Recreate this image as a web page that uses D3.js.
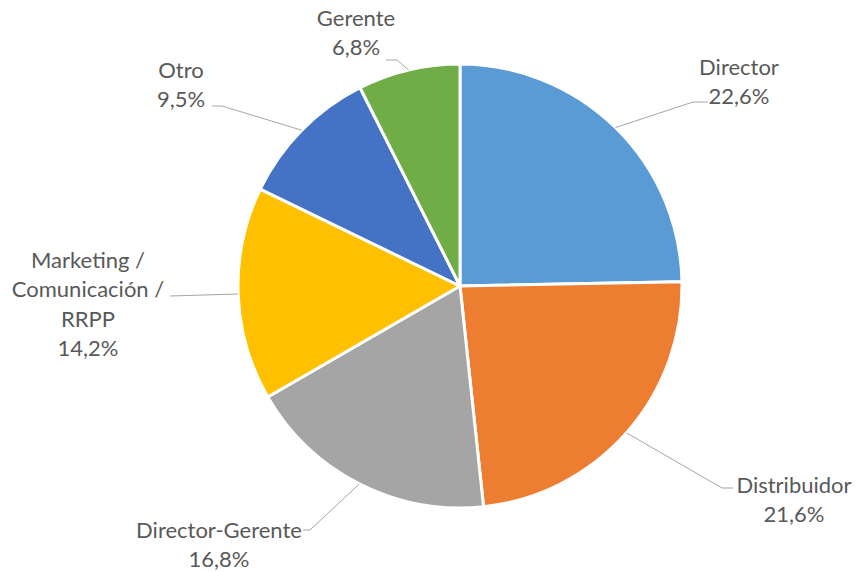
<!DOCTYPE html>
<html>
<head>
<meta charset="utf-8">
<script src="https://cdn.jsdelivr.net/npm/d3@7"></script>
<style>
    body { margin: 0; background: #fff; }
    .lbl { font-family: Lato, "Open Sans", sans-serif; font-size: 22px; fill: #595959; }
    .leader { fill: none; stroke: #a6a6a6; stroke-width: 1; }
</style>
</head>
<body>
<div id="chart"></div>
<script>
// data
var categories = ["Director", "Distribuidor", "Director-Gerente", "Marketing / Comunicación / RRPP", "Otro", "Gerente"];
var values = [22.6, 21.6, 16.8, 14.2, 9.5, 6.8];
var colors = ["#5b9bd5", "#ed7d31", "#a5a5a5", "#ffc000", "#4472c4", "#70ad47"];

// label layout, relative to the pie centre: text = first line centre, elbow/end = leader line
var labelLayout = [
    {text: [279, -219], elbow: [233, -184], end: [248, -184]},
    {text: [334, 199],  elbow: [262, 202],  end: [273, 202]},
    {text: [-241, 244], elbow: [-150, 244], end: [-157, 244]},
    {text: [-372, -26], elbow: [-290, 10],  end: [-290, 10]},
    {text: [-279, -216], elbow: [-238, -180], end: [-248, -180]},
    {text: [-104, -268], elbow: [-63, -226], end: [-74, -226]}
];

var width = 857, height = 572;
var cx = 460, cy = 286, radius = 222;
var lineH = 29.5;

var svg = d3.select("#chart").append("svg")
    .attr("width", width)
    .attr("height", height);

var g = svg.append("g")
    .attr("transform", "translate(" + cx + "," + cy + ")");

var data = categories.map(function(c, i) { return {name: c, value: values[i], color: colors[i], layout: labelLayout[i]}; });

var pie = d3.pie().sort(null).value(function(d) { return d.value; });
var arc = d3.arc().innerRadius(0).outerRadius(radius);
var arcs = pie(data);

g.selectAll("path.slice")
    .data(arcs)
    .enter().append("path")
    .attr("class", "slice")
    .attr("d", arc)
    .attr("fill", function(d) { return d.data.color; })
    .attr("stroke", "#fff")
    .attr("stroke-width", 3)
    .attr("stroke-linejoin", "round");

var fmt = function(v) { return d3.format(".1f")(v).replace(".", ",") + "%"; };

// leader lines start on the edge at the middle angle of each slice
g.selectAll("path.leader")
    .data(arcs)
    .enter().append("path")
    .attr("class", "leader")
    .attr("d", function(d) {
        var a = (d.startAngle + d.endAngle) / 2;
        var p0 = [radius * Math.sin(a), -radius * Math.cos(a)];
        var l = d.data.layout;
        return d3.line()([p0, l.elbow, l.end]);
    });

var labels = g.selectAll("text.lbl")
    .data(arcs)
    .enter().append("text")
    .attr("class", "lbl")
    .attr("text-anchor", "middle")
    .attr("x", function(d) { return d.data.layout.text[0]; })
    .attr("y", function(d) { return d.data.layout.text[1]; });

labels.each(function(d) {
    var lines = d.data.name.split(/(?<=\/) /);
    lines.push(fmt(d.data.value));
    var t = d3.select(this);
    lines.forEach(function(s, i) {
        t.append("tspan")
            .attr("x", d.data.layout.text[0])
            .attr("y", d.data.layout.text[1] + i * lineH)
            .attr("dy", "0.35em")
            .text(s);
    });
});
</script>
</body>
</html>
